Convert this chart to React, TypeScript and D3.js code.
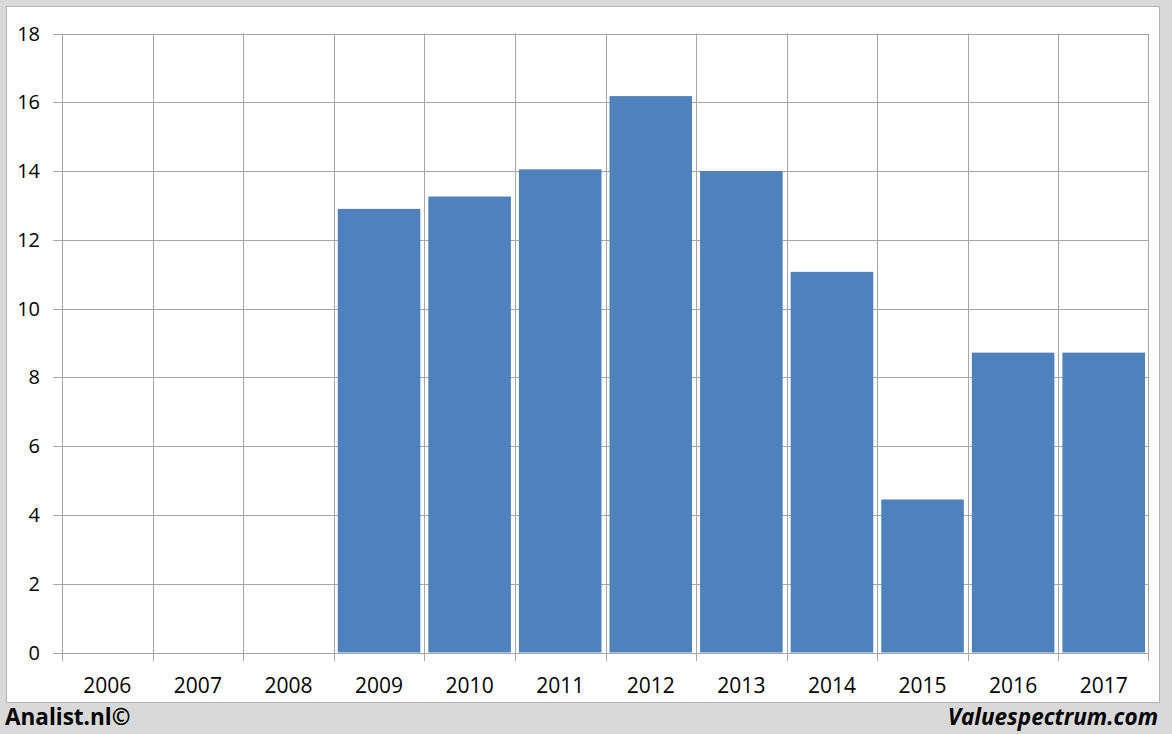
import React from "react";
import * as d3 from "d3";

const years = ["2006","2007","2008","2009","2010","2011","2012","2013","2014","2015","2016","2017"];
const values: (number | null)[] = [null, null, null, 12.9, 13.26, 14.05, 16.18, 14.0, 11.07, 4.45, 8.72, 8.72];
const yTicks = [0, 2, 4, 6, 8, 10, 12, 14, 16, 18];

export default function App() {
  const W = 1172, H = 734;
  const x = d3.scaleBand().domain(years).range([62, 1149]).paddingInner(0).paddingOuter(0);
  const y = d3.scaleLinear().domain([0, 18]).range([652.5, 33.5]);
  const bw = x.bandwidth();
  const gap = 4;
  const font = "Open Sans, Liberation Sans, sans-serif";
  return (
    <svg width={W} height={H} style={{ position: "absolute", left: 0, top: 0 }}>
      <rect x={0} y={0} width={W} height={H} fill="#d9d9d9" />
      <rect x={6.5} y={6.5} width={1153} height={696} fill="#ffffff" stroke="#b3b3b3" strokeWidth={1} />
      {yTicks.map((t) => (
        <g key={t}>
          <line x1={53} x2={1149} y1={Math.round(y(t)) + 0.5} y2={Math.round(y(t)) + 0.5} stroke="#a6a6a6" strokeWidth={1} />
          <text x={40} y={y(t) + 7} textAnchor="end" fontFamily={font} fontSize={20} fill="#000">{t}</text>
        </g>
      ))}
      {years.map((yr) => (
        <line key={"v" + yr} x1={Math.round(x(yr)!) + 0.5} x2={Math.round(x(yr)!) + 0.5} y1={33.5} y2={661} stroke="#a6a6a6" strokeWidth={1} />
      ))}
      <line x1={1148.5} x2={1148.5} y1={33.5} y2={661} stroke="#a6a6a6" strokeWidth={1} />
      {years.map((yr, i) => {
        const v = values[i];
        if (v == null) return null;
        return (
          <rect key={"b" + yr} x={x(yr)! + gap} width={bw - 2 * gap} y={y(v)} height={y(0) - y(v)} fill="#4f81bd" />
        );
      })}
      {years.map((yr) => (
        <text key={"l" + yr} x={x(yr)! + bw / 2} y={693} textAnchor="middle" fontFamily={font} fontSize={21} fill="#000">{yr}</text>
      ))}
      <text x={5} y={725} fontFamily={font} fontSize={22.5} fontWeight="bold" fill="#000">Analist.nl©</text>
      <text x={1158} y={725} textAnchor="end" fontFamily={font} fontSize={22.5} fontWeight="bold" fontStyle="italic" fill="#000">Valuespectrum.com</text>
    </svg>
  );
}
